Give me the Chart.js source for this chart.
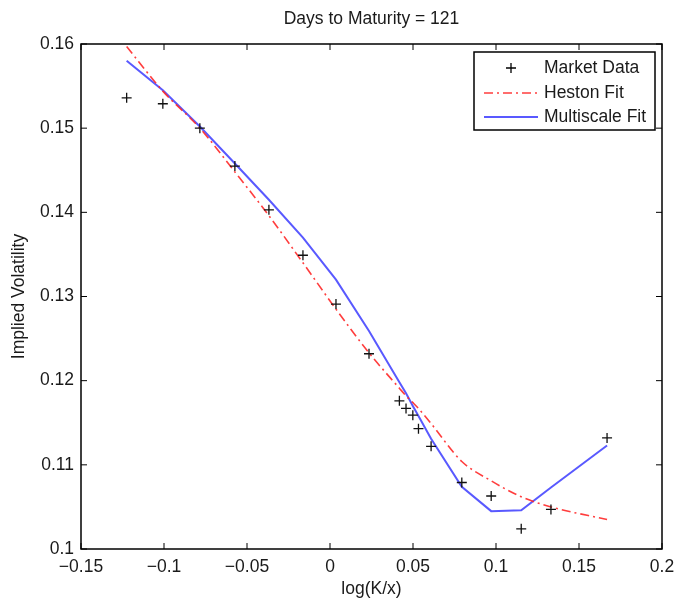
<!DOCTYPE html>
<html>
<head>
<meta charset="utf-8">
<script src="https://cdn.jsdelivr.net/npm/chart.js@4"></script>
<style>
  html, body { margin: 0; padding: 0; background: #fff; }
  #wrap { width: 678px; height: 603px; }
</style>
</head>
<body>
<div id="wrap"><canvas id="chart" width="678" height="603"></canvas></div>
<script>
// --- data ---
const logMoneyness = [-0.1225, -0.1007, -0.0784, -0.0573, -0.0368, -0.0163, 0.0036, 0.0235,
  0.0418, 0.0458, 0.0499, 0.0533, 0.0609, 0.0794, 0.0971, 0.1152, 0.1331, 0.1669];
const marketVol = [0.1536, 0.1529, 0.1500, 0.1455, 0.1403, 0.1349, 0.1291, 0.1232,
  0.1176, 0.1167, 0.1159, 0.1143, 0.1122, 0.1079, 0.1063, 0.1024, 0.1047, 0.1132];
const hestonVol = [0.1597, 0.1544, 0.1500, 0.1448, 0.1396, 0.1340, 0.1285, 0.1233,
  0.1191, 0.1182, 0.1174, 0.1167, 0.1149, 0.1104, 0.1081, 0.1062, 0.1050, 0.1035];
const multiscaleVol = [0.1580, 0.1545, 0.1502, 0.1458, 0.1415, 0.1370, 0.1320, 0.1259,
  0.1198, 0.1185, 0.1170, 0.1158, 0.1131, 0.1074, 0.1045, 0.1046, 0.1073, 0.1123];

const xTicks = [-0.15, -0.1, -0.05, 0, 0.05, 0.1, 0.15, 0.2];
const xTickLabels = ['\u22120.15', '\u22120.1', '\u22120.05', '0', '0.05', '0.1', '0.15', '0.2'];
const yTicks = [0.1, 0.11, 0.12, 0.13, 0.14, 0.15, 0.16];
const yTickLabels = ['0.1', '0.11', '0.12', '0.13', '0.14', '0.15', '0.16'];

const seriesNames = ['Market Data', 'Heston Fit', 'Multiscale Fit'];
const chartTitle = 'Days to Maturity = 121';

const FONT = '"Liberation Sans", Arial, sans-serif';
const TEXT = '#1a1a1a';
const RED = 'rgba(255, 40, 40, 0.9)';
const BLUE = 'rgba(80, 80, 255, 0.95)';
const RED_DASH = [9, 4, 2, 4];

const toPoints = (ys) => logMoneyness.map((x, i) => ({ x: x, y: ys[i] }));

// box, inward ticks, title and legend in the matlab look
const matlabFrame = {
  id: 'matlabFrame',
  afterDraw(chart) {
    const ctx = chart.ctx;
    const a = chart.chartArea;
    const sx = chart.scales.x, sy = chart.scales.y;
    ctx.save();
    ctx.strokeStyle = '#000';
    ctx.lineWidth = 1.5;
    ctx.strokeRect(a.left, a.top, a.right - a.left, a.bottom - a.top);

    ctx.lineWidth = 1;
    const tl = 6;
    xTicks.forEach(v => {
      const px = sx.getPixelForValue(v);
      ctx.beginPath();
      ctx.moveTo(px, a.bottom); ctx.lineTo(px, a.bottom - tl);
      ctx.moveTo(px, a.top); ctx.lineTo(px, a.top + tl);
      ctx.stroke();
    });
    yTicks.forEach(v => {
      const py = sy.getPixelForValue(v);
      ctx.beginPath();
      ctx.moveTo(a.left, py); ctx.lineTo(a.left + tl, py);
      ctx.moveTo(a.right, py); ctx.lineTo(a.right - tl, py);
      ctx.stroke();
    });

    // title
    ctx.fillStyle = TEXT;
    ctx.font = '17.5px ' + FONT;
    ctx.textAlign = 'center';
    ctx.textBaseline = 'middle';
    ctx.fillText(chartTitle, (a.left + a.right) / 2, 19);

    // legend
    const bx = 474, by = 52, bw = 181, bh = 78;
    ctx.fillStyle = '#fff';
    ctx.fillRect(bx, by, bw, bh);
    ctx.strokeStyle = '#000';
    ctx.lineWidth = 1.5;
    ctx.strokeRect(bx, by, bw, bh);

    const rows = [68, 93, 117];
    ctx.font = '17.5px ' + FONT;
    ctx.textAlign = 'left';
    ctx.fillStyle = TEXT;
    seriesNames.forEach((name, i) => ctx.fillText(name, 544, rows[i]));

    ctx.strokeStyle = '#000';
    ctx.lineWidth = 1.3;
    ctx.beginPath();
    ctx.moveTo(506, rows[0]); ctx.lineTo(516, rows[0]);
    ctx.moveTo(511, rows[0] - 5); ctx.lineTo(511, rows[0] + 5);
    ctx.stroke();

    ctx.strokeStyle = RED;
    ctx.lineWidth = 1.5;
    ctx.setLineDash(RED_DASH);
    ctx.beginPath();
    ctx.moveTo(484, rows[1]); ctx.lineTo(538, rows[1]);
    ctx.stroke();
    ctx.setLineDash([]);

    ctx.strokeStyle = BLUE;
    ctx.lineWidth = 2;
    ctx.beginPath();
    ctx.moveTo(484, rows[2]); ctx.lineTo(538, rows[2]);
    ctx.stroke();
    ctx.restore();
  }
};

const ctx = document.getElementById('chart').getContext('2d');
new Chart(ctx, {
  type: 'scatter',
  data: {
    datasets: [
      {
        label: seriesNames[2],
        data: toPoints(multiscaleVol),
        showLine: true,
        borderColor: BLUE,
        borderWidth: 2,
        pointRadius: 0,
        tension: 0,
        order: 3
      },
      {
        label: seriesNames[1],
        data: toPoints(hestonVol),
        showLine: true,
        borderColor: RED,
        borderWidth: 1.6,
        borderDash: RED_DASH,
        pointRadius: 0,
        cubicInterpolationMode: 'monotone',
        order: 2
      },
      {
        label: seriesNames[0],
        data: toPoints(marketVol),
        pointStyle: 'cross',
        pointRadius: 5,
        borderColor: '#111',
        backgroundColor: '#111',
        borderWidth: 1.3,
        order: 1
      }
    ]
  },
  options: {
    responsive: false,
    animation: false,
    layout: { padding: { top: 44, right: 16, left: 0, bottom: 0 } },
    plugins: {
      legend: { display: false },
      title: { display: false },
      tooltip: { enabled: false }
    },
    scales: {
      x: {
        type: 'linear',
        min: -0.15,
        max: 0.2,
        afterBuildTicks: (s) => { s.ticks = xTicks.map(v => ({ value: v })); },
        afterFit: (s) => { s.height = 54; s.paddingLeft = 0; s.paddingRight = 0; },
        grid: { display: false, drawTicks: false },
        border: { display: false },
        ticks: {
          color: TEXT,
          font: { family: FONT, size: 17.5 },
          padding: 8,
          maxRotation: 0,
          callback: (v, i) => xTickLabels[i]
        },
        title: {
          display: true,
          text: 'log(K/x)',
          color: TEXT,
          font: { family: FONT, size: 17.5 },
          padding: { top: 2, bottom: 3 }
        }
      },
      y: {
        type: 'linear',
        min: 0.1,
        max: 0.16,
        afterBuildTicks: (s) => { s.ticks = yTicks.map(v => ({ value: v })); },
        afterFit: (s) => { s.width = 81; },
        grid: { display: false, drawTicks: false },
        border: { display: false },
        ticks: {
          color: TEXT,
          font: { family: FONT, size: 17.5 },
          padding: 7,
          callback: (v, i) => yTickLabels[i]
        },
        title: {
          display: true,
          text: 'Implied Volatility',
          color: TEXT,
          font: { family: FONT, size: 17.5 },
          padding: { top: 9, bottom: 0 }
        }
      }
    }
  },
  plugins: [matlabFrame]
});
</script>
</body>
</html>
